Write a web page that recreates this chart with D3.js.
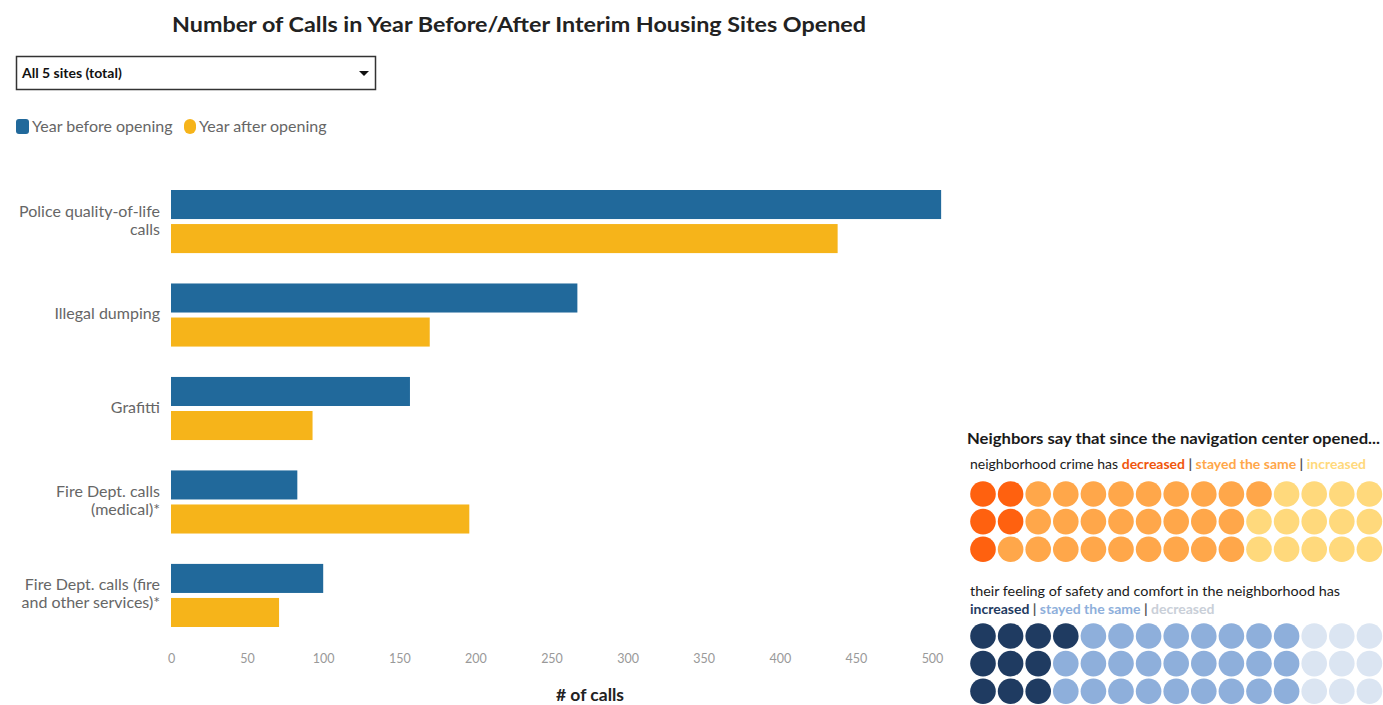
<!DOCTYPE html>
<html><head><meta charset="utf-8">
<script src="https://cdn.jsdelivr.net/npm/d3@7"></script>
<style>
body{margin:0;background:#fff;overflow:hidden}
svg{display:block;font-family:Lato,"Open Sans",sans-serif}
</style></head><body>
<svg id="chart" width="1383" height="705"></svg>
<script>
const categories = [
  ["Police quality-of-life","calls"],
  ["Illegal dumping"],
  ["Grafitti"],
  ["Fire Dept. calls","(medical)*"],
  ["Fire Dept. calls (fire","and other services)*"]
];
const seriesNames = ["Year before opening","Year after opening"];
const beforeValues = [506, 267, 157, 83, 100];
const afterValues  = [438, 170, 93, 196, 71];
const xTicks = [0,50,100,150,200,250,300,350,400,450,500];

const crimeLabels = ["decreased","stayed the same","increased"];
const crimeCounts = [5, 26, 19];
const safetyLabels = ["increased","stayed the same","decreased"];
const safetyCounts = [10, 26, 19];

const svg = d3.select("#chart");
const blue = "#21699b", yellow = "#f6b41a";

// Title
svg.append("text").attr("x",519).attr("y",32).attr("text-anchor","middle")
  .attr("font-size",21).attr("font-weight",700).attr("fill","#222")
  .attr("textLength",694).attr("lengthAdjust","spacingAndGlyphs")
  .text("Number of Calls in Year Before/After Interim Housing Sites Opened");

// Dropdown
svg.append("rect").attr("x",16.5).attr("y",56.5).attr("width",359).attr("height",33)
  .attr("fill","#fff").attr("stroke","#333").attr("stroke-width",1.5);
svg.append("text").attr("x",22).attr("y",78).attr("font-size",14).attr("font-weight",700)
  .attr("fill","#111").text("All 5 sites (total)");
svg.append("path").attr("d","M359,71 L369,71 L364,76 Z").attr("fill","#111");

// Legend
const lg = svg.append("g");
lg.append("rect").attr("x",16).attr("y",119).attr("width",13).attr("height",15).attr("rx",3).attr("fill",blue);
lg.append("text").attr("x",32).attr("y",132).attr("font-size",16).attr("fill","#666").text(seriesNames[0]);
lg.append("rect").attr("x",184).attr("y",119).attr("width",12).attr("height",15).attr("rx",6).attr("fill",yellow);
lg.append("text").attr("x",199).attr("y",132).attr("font-size",16).attr("fill","#666").text(seriesNames[1]);

// Scales
const x = d3.scaleLinear().domain([0,500]).range([171,932]);
const y = d3.scaleBand().domain(d3.range(categories.length)).range([190,627]).paddingInner(0.325).paddingOuter(0);
const yInner = d3.scaleBand().domain([0,1]).range([0,y.bandwidth()]).paddingInner(0.147);

const data = categories.map((c,i)=>({i, vals:[beforeValues[i], afterValues[i]]}));
const groups = svg.append("g").selectAll("g").data(data).join("g")
  .attr("transform",d=>`translate(0,${y(d.i)})`);
groups.selectAll("rect").data(d=>d.vals.map((v,k)=>({v,k}))).join("rect")
  .attr("x",x(0)).attr("y",d=>yInner(d.k))
  .attr("width",d=>x(d.v)-x(0)).attr("height",yInner.bandwidth())
  .attr("fill",d=>d.k===0?blue:yellow);

// Category labels
const labs = svg.append("g");
categories.forEach((lines,i)=>{
  const cy = y(i)+y.bandwidth()/2;
  const t = labs.append("text").attr("text-anchor","end").attr("font-size",16).attr("fill","#666");
  const n = lines.length;
  lines.forEach((ln,j)=>{
    t.append("tspan").attr("x",160).attr("y",cy + (j-(n-1)/2)*18 + 4).text(ln);
  });
});

// X axis
const xAxis = d3.axisBottom(x).tickValues(xTicks).tickSize(0).tickPadding(0);
const ax = svg.append("g").attr("transform","translate(0,652)").call(xAxis);
ax.select(".domain").remove();
ax.selectAll("text").attr("font-size",12.5).attr("fill","#999").attr("font-family","Lato,sans-serif").attr("dy","0.9em");
svg.append("text").attr("x",590).attr("y",701).attr("text-anchor","middle")
  .attr("font-size",17.5).attr("font-weight",700).attr("fill","#222").text("# of calls");

// Right panel
const rp = svg.append("g");
rp.append("text").attr("x",967).attr("y",444).attr("font-size",15).attr("font-weight",700)
  .attr("fill","#1a1a1a").attr("textLength",413).attr("lengthAdjust","spacingAndGlyphs")
  .text("Neighbors say that since the navigation center opened...");

const crimeColors = ["#ff610f","#ffa74a","#ffd97c"];
const safetyColors = ["#1f3b61","#8eafdb","#dbe5f2"];

function legendLine(yPos, prefix, labels, colors){
  const t = rp.append("text").attr("x",970).attr("y",yPos).attr("font-size",14).attr("fill","#1a1a1a");
  if(prefix) t.append("tspan").text(prefix);
  labels.forEach((l,k)=>{
    if(k>0) t.append("tspan").attr("fill","#555").attr("font-weight",700).text(" | ");
    t.append("tspan").attr("fill",colors[k]).attr("font-weight",700).text(l);
  });
}
legendLine(469, "neighborhood crime has ", crimeLabels, ["#f0560c","#ffa74a","#ffd97c"]);
rp.append("text").attr("x",970).attr("y",596).attr("font-size",14).attr("fill","#1a1a1a")
  .attr("textLength",370).attr("lengthAdjust","spacingAndGlyphs")
  .text("their feeling of safety and comfort in the neighborhood has");
legendLine(614, "", safetyLabels, ["#1f3b61","#8eafdb","#c9cfd8"]);

function waffle(counts, colors, x0, y0){
  const dots = [];
  counts.forEach((c,k)=>{ for(let j=0;j<c;j++) dots.push(k); });
  const cx = d3.scaleLinear().domain([0,1]).range([x0, x0+27.6]);
  const cy = d3.scaleLinear().domain([0,1]).range([y0, y0+27.6]);
  rp.append("g").selectAll("circle").data(dots).join("circle")
    .attr("cx",(d,i)=>cx(Math.floor(i/3)))
    .attr("cy",(d,i)=>cy(i%3))
    .attr("r",12.8)
    .attr("fill",d=>colors[d]);
}
waffle(crimeCounts, crimeColors, 983, 494);
waffle(safetyCounts, safetyColors, 983, 636);
</script>
</body></html>
